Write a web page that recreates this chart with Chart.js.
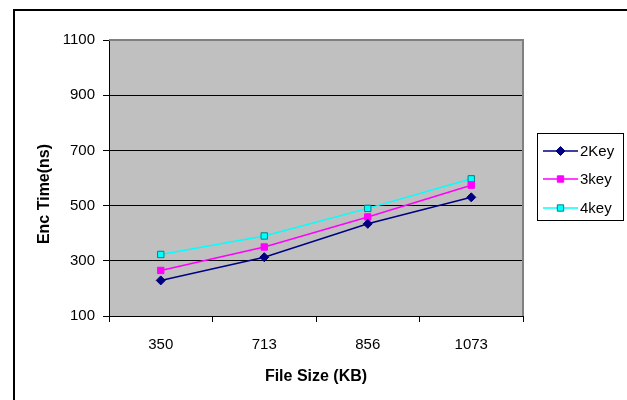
<!DOCTYPE html>
<html>
<head>
<meta charset="utf-8">
<script src="https://cdn.jsdelivr.net/npm/chart.js@4/dist/chart.umd.min.js"></script>
<style>
  html, body { margin: 0; padding: 0; background: #ffffff; }
  #wrap { position: relative; width: 627px; height: 400px; }
</style>
</head>
<body>
<div id="wrap"><canvas id="chart" width="627" height="400"></canvas></div>
<script>
// File sizes (KB) on the x axis
const fileSizes = ['350', '713', '856', '1073'];
// Encryption times (ns) per key count
const key2 = [229, 313, 434, 530];
const key3 = [265, 350, 459, 574];
const key4 = [323, 390, 490, 597];
const seriesNames = ['2Key', '3key', '4key'];
const yTicks = [100, 300, 500, 700, 900, 1100];

const FONT = 'Liberation Sans, Arial, sans-serif';

// Frame, plot background, titles and the boxed legend
const decorations = {
  id: 'decorations',
  beforeDraw(chart) {
    const ctx = chart.ctx;
    const a = chart.chartArea;
    ctx.save();
    ctx.fillStyle = '#ffffff';
    ctx.fillRect(0, 0, chart.width, chart.height);
    // outer frame
    ctx.strokeStyle = '#000000';
    ctx.lineWidth = 2;
    ctx.strokeRect(14, 10, chart.width + 20, chart.height + 20);
    // plot background
    ctx.fillStyle = '#C0C0C0';
    ctx.fillRect(a.left, a.top, a.right - a.left, a.bottom - a.top);
    ctx.restore();
  },
  beforeDatasetsDraw(chart) {
    const ctx = chart.ctx;
    const a = chart.chartArea;
    ctx.save();
    ctx.strokeStyle = '#808080';
    ctx.lineWidth = 2;
    ctx.beginPath();
    ctx.moveTo(a.left, a.top);
    ctx.lineTo(a.right, a.top);
    ctx.lineTo(a.right, a.bottom);
    ctx.stroke();
    ctx.restore();
  },
  afterDraw(chart) {
    const ctx = chart.ctx;
    ctx.save();
    ctx.fillStyle = '#000000';
    ctx.font = 'bold 16px ' + FONT;
    ctx.textAlign = 'center';
    ctx.textBaseline = 'middle';
    // x axis title
    ctx.fillText('File Size (KB)', 316, 377);
    // y axis title
    ctx.translate(45, 194);
    ctx.rotate(-Math.PI / 2);
    ctx.fillText('Enc Time(ns)', 0, 0);
    ctx.restore();

    // legend box
    ctx.save();
    ctx.strokeStyle = '#000000';
    ctx.lineWidth = 1;
    ctx.strokeRect(537.5, 133.5, 86, 87);
    const rows = [151, 179, 208];
    chart.data.datasets.forEach((ds, i) => {
      const y = rows[i];
      ctx.strokeStyle = ds.borderColor;
      ctx.lineWidth = ds.borderWidth;
      ctx.beginPath();
      ctx.moveTo(543, y);
      ctx.lineTo(578, y);
      ctx.stroke();
      ctx.fillStyle = ds.pointBackgroundColor;
      ctx.strokeStyle = ds.pointBorderColor;
      ctx.lineWidth = ds.pointBorderWidth;
      Chart.helpers.drawPoint(ctx, {
        pointStyle: ds.pointStyle,
        radius: ds.pointRadius,
        borderWidth: ds.pointBorderWidth,
        rotation: 0
      }, 560.5, y);
      ctx.fillStyle = '#000000';
      ctx.font = '15px ' + FONT;
      ctx.textAlign = 'left';
      ctx.textBaseline = 'middle';
      ctx.fillText(seriesNames[i], 580, y + 1);
    });
    ctx.restore();
  }
};

new Chart(document.getElementById('chart'), {
  type: 'line',
  data: {
    labels: fileSizes,
    datasets: [
      {
        label: seriesNames[0],
        data: key2,
        borderColor: '#000080',
        borderWidth: 1.5,
        pointStyle: 'rectRot',
        pointRadius: 4.5,
        pointBackgroundColor: '#000080',
        pointBorderColor: '#000080',
        pointBorderWidth: 1
      },
      {
        label: seriesNames[1],
        data: key3,
        borderColor: '#FF00FF',
        borderWidth: 1.5,
        pointStyle: 'rect',
        pointRadius: 4.5,
        pointBackgroundColor: '#FF00FF',
        pointBorderColor: '#FF00FF',
        pointBorderWidth: 1
      },
      {
        label: seriesNames[2],
        data: key4,
        borderColor: '#00FFFF',
        borderWidth: 1.5,
        pointStyle: 'rect',
        pointRadius: 4.5,
        pointBackgroundColor: '#00FFFF',
        pointBorderColor: '#008080',
        pointBorderWidth: 1
      }
    ]
  },
  options: {
    responsive: false,
    animation: false,
    devicePixelRatio: 1,
    layout: { padding: { left: 0, right: 104, top: 40, bottom: 0 } },
    plugins: { legend: { display: false }, tooltip: { enabled: false } },
    elements: { line: { tension: 0 } },
    scales: {
      x: {
        type: 'category',
        offset: true,
        afterFit(scale) { scale.height = 84; },
        grid: {
          offset: true,
          drawOnChartArea: false,
          drawTicks: true,
          tickLength: 6,
          tickColor: '#000000',
          tickWidth: 1
        },
        border: { display: true, color: '#000000', width: 1 },
        ticks: {
          color: '#000000',
          font: { family: FONT, size: 15 },
          padding: 14,
          maxRotation: 0
        }
      },
      y: {
        min: 100,
        max: 1100,
        afterFit(scale) { scale.width = 109; },
        afterBuildTicks(scale) { scale.ticks = yTicks.map(v => ({ value: v })); },
        grid: {
          color: ctx => (ctx.tick && (ctx.tick.value === 1100 || ctx.tick.value === 100)) ? 'rgba(0,0,0,0)' : '#000000',
          lineWidth: 1,
          drawTicks: true,
          tickLength: 6,
          tickColor: '#000000'
        },
        border: { display: true, color: '#000000', width: 1 },
        ticks: {
          color: '#000000',
          font: { family: FONT, size: 15 },
          padding: 8,
          callback: v => String(v)
        }
      }
    }
  },
  plugins: [decorations]
});
</script>
</body>
</html>
